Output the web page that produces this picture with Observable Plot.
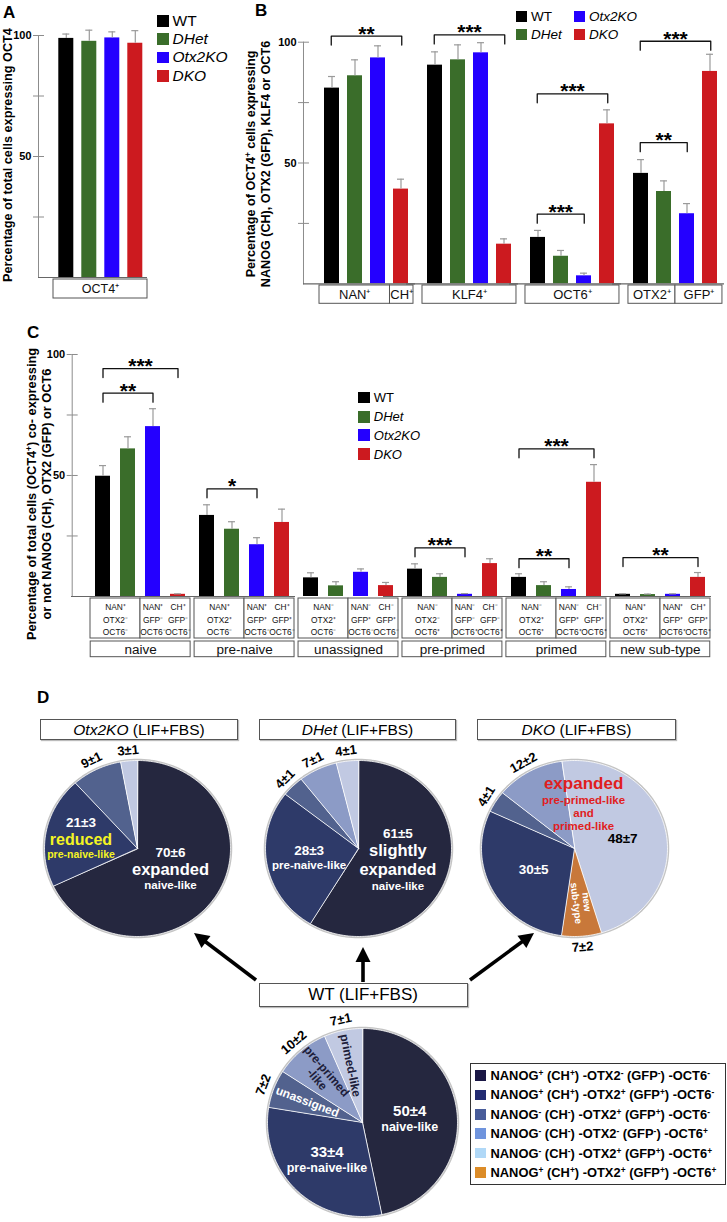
<!DOCTYPE html>
<html>
<head>
<meta charset="utf-8">
<script src="https://cdn.jsdelivr.net/npm/d3@7"></script>
<script src="https://cdn.jsdelivr.net/npm/@observablehq/plot@0.6"></script>
<style>
  html, body { margin: 0; padding: 0; background: #fff; }
  #fig { position: relative; width: 727px; height: 1222px; overflow: hidden; background: #fff;
         font-family: "Liberation Sans", Arial, Helvetica, sans-serif; color: #000; }
  #fig svg { max-width: none !important; }
  .abs { position: absolute; }
  .abs > svg { display: block; }
  .letter { position: absolute; font-weight: bold; font-size: 17px; line-height: 1; }
  .ytitle { position: absolute; transform: translate(-50%, -50%) rotate(-90deg); white-space: nowrap;
            text-align: center; font-weight: bold; }
  .leg { position: absolute; display: flex; align-items: center; white-space: nowrap; }
  .leg .sw { display: inline-block; flex: none; }
  sup { font-size: 0.65em; line-height: 0; vertical-align: 0.5em; }
  .yaxwrap text { fill: #000; font-weight: bold; }
  .tbox { position: absolute; border: 1px solid #555; box-sizing: border-box; text-align: center;
          background: #fff; box-shadow: 1px 1px 1px #bbb; white-space: nowrap; }
  .dleg { position: absolute; border: 1px solid #333; box-sizing: border-box; background: #fff; }
  .dleg .row { display: flex; align-items: center; font-weight: bold; font-size: 12.9px; white-space: nowrap; position: absolute; left: 4px; }
  .dleg .row .sw { width: 10.5px; height: 10.5px; margin-right: 5px; flex: none; }
</style>
</head>
<body>
<div id="fig"></div>
<script>
// ------------------------------------------------------------------ data
const genotypes = ["WT", "DHet", "Otx2KO", "DKO"];
const genotypeColors = ["#000000", "#3a6d2a", "#2400ff", "#cc1a1f"];
const genotypeItalic = [false, true, true, true];

// Panel A
const aGroups = ["OCT4"];
const aMeans = [[98.8, 97.6, 99.0, 96.8]];
const aSems = [[1.8, 4.6, 2.5, 5.2]];
const aBoxes = [{group: "OCT4", first: "WT", last: "DKO", label: "OCT4⁺"}];

// Panel B
const bGroups = ["NAN", "KLF4", "OCT6", "OTX2"];
const bMeans = [[81.0, 86.1, 93.5, 39.2], [90.5, 92.7, 95.6, 16.4], [19.2, 11.4, 3.3, 66.2], [45.7, 38.2, 29.0, 87.9]];
const bSems = [[4.8, 6.6, 5.0, 4.1], [5.5, 6.2, 4.2, 2.2], [2.9, 2.4, 1.1, 5.8], [5.7, 4.4, 4.2, 7.1]];
const bSig = [
  {group: "NAN", from: "WT", to: "DKO", level: 102.5, stars: "**"},
  {group: "KLF4", from: "WT", to: "DKO", level: 103.0, stars: "***"},
  {group: "OCT6", from: "WT", to: "DKO", level: 78.6, stars: "***"},
  {group: "OCT6", from: "WT", to: "Otx2KO", level: 28.8, stars: "***"},
  {group: "OTX2", from: "WT", to: "DKO", level: 100.4, stars: "***"},
  {group: "OTX2", from: "WT", to: "Otx2KO", level: 58.4, stars: "**"}
];
const bBoxes = [
  {group: "NAN", first: "WT", last: "Otx2KO", label: "NAN⁺"},
  {group: "NAN", first: "DKO", last: "DKO", label: "CH⁺"},
  {group: "KLF4", first: "WT", last: "DKO", label: "KLF4⁺"},
  {group: "OCT6", first: "WT", last: "DKO", label: "OCT6⁺"},
  {group: "OTX2", first: "WT", last: "DHet", label: "OTX2⁺"},
  {group: "OTX2", first: "Otx2KO", last: "DKO", label: "GFP⁺"}
];

// Panel C
const cGroups = ["naive", "pre-naive", "unassigned", "pre-primed", "primed", "new sub-type"];
const cMeans = [[49.7, 61.0, 70.2, 0.9], [33.5, 27.8, 21.4, 30.6], [7.7, 4.4, 10.0, 4.5],
                [11.3, 7.9, 0.9, 13.6], [7.9, 4.5, 2.9, 47.2], [0.9, 0.8, 0.9, 7.9]];
const cSems = [[4.4, 5.0, 7.4, 0.2], [4.4, 3.1, 2.9, 5.5], [2.1, 1.7, 1.4, 1.3],
               [2.2, 1.5, 0.3, 2.0], [1.5, 1.6, 1.1, 7.3], [0.2, 0.2, 0.2, 2.0]];
const cSig = [
  {group: "naive", from: "WT", to: "DKO", level: 94.2, stars: "***"},
  {group: "naive", from: "WT", to: "Otx2KO", level: 84.0, stars: "**"},
  {group: "pre-naive", from: "WT", to: "Otx2KO", level: 44.5, stars: "*"},
  {group: "pre-primed", from: "WT", to: "Otx2KO", level: 20.1, stars: "***"},
  {group: "primed", from: "WT", to: "DKO", level: 61.0, stars: "***"},
  {group: "primed", from: "WT", to: "Otx2KO", level: 15.6, stars: "**"},
  {group: "new sub-type", from: "WT", to: "DKO", level: 16.1, stars: "**"}
];
const cMarkers = [
  ["NAN⁺\nOTX2⁻\nOCT6⁻", "NAN⁺\nGFP⁻\nOCT6⁻", "CH⁺\nGFP⁻\nOCT6⁻"],
  ["NAN⁺\nOTX2⁺\nOCT6⁻", "NAN⁺\nGFP⁺\nOCT6⁻", "CH⁺\nGFP⁺\nOCT6⁻"],
  ["NAN⁻\nOTX2⁺\nOCT6⁻", "NAN⁻\nGFP⁺\nOCT6⁻", "CH⁻\nGFP⁺\nOCT6⁻"],
  ["NAN⁻\nOTX2⁻\nOCT6⁺", "NAN⁻\nGFP⁻\nOCT6⁺", "CH⁻\nGFP⁻\nOCT6⁺"],
  ["NAN⁻\nOTX2⁺\nOCT6⁺", "NAN⁻\nGFP⁺\nOCT6⁺", "CH⁻\nGFP⁺\nOCT6⁺"],
  ["NAN⁺\nOTX2⁺\nOCT6⁺", "NAN⁺\nGFP⁺\nOCT6⁺", "CH⁺\nGFP⁺\nOCT6⁺"]
];
const cMarkerGenotypes = [["WT", "DHet"], ["Otx2KO"], ["DKO"]];

const yTicks = [25, 50, 75, 100];
const yTickLabels = [50, 100];

// Panel D (pies)
const pieClassNames = ["naive-like", "pre-naive-like", "unassigned", "pre-primed-like", "primed-like", "new sub-type"];
const pieClassColors = ["#25273f", "#2e3a69", "#52628e", "#8c9bc6", "#c1c9e2", "#c8783a"];
const otx2koPieClasses = ["naive-like", "pre-naive-like", "unassigned", "primed-like"];
const otx2koPieShares = [70, 21, 9, 3];
const otx2koPieErrors = [6, 3, 1, 1];
const dhetPieClasses = ["naive-like", "pre-naive-like", "unassigned", "pre-primed-like", "primed-like"];
const dhetPieShares = [61, 28, 4, 7, 4];
const dhetPieErrors = [5, 3, 1, 1, 1];
const dkoPieClasses = ["primed-like", "new sub-type", "pre-naive-like", "unassigned", "pre-primed-like"];
const dkoPieShares = [48, 7, 30, 4, 12];
const dkoPieErrors = [7, 2, 5, 1, 2];
const wtPieClasses = ["naive-like", "pre-naive-like", "unassigned", "pre-primed-like", "primed-like"];
const wtPieShares = [50, 33, 7, 10, 7];
const wtPieErrors = [4, 4, 2, 2, 1];

const dLegendColors = ["#1a1745", "#222b72", "#485c9a", "#6f94dd", "#b0d8f7", "#dc8c28"];
const dLegendLabels = [
  "NANOG<sup>+</sup> (CH<sup>+</sup>) -OTX2<sup>-</sup> (GFP<sup>-</sup>) -OCT6<sup>-</sup>",
  "NANOG<sup>+</sup> (CH<sup>+</sup>) -OTX2<sup>+</sup> (GFP<sup>+</sup>) -OCT6<sup>-</sup>",
  "NANOG<sup>-</sup> (CH<sup>-</sup>) -OTX2<sup>+</sup> (GFP<sup>+</sup>) -OCT6<sup>-</sup>",
  "NANOG<sup>-</sup> (CH<sup>-</sup>) -OTX2<sup>-</sup> (GFP<sup>-</sup>) -OCT6<sup>+</sup>",
  "NANOG<sup>-</sup> (CH<sup>-</sup>) -OTX2<sup>+</sup> (GFP<sup>+</sup>) -OCT6<sup>+</sup>",
  "NANOG<sup>+</sup> (CH<sup>+</sup>) -OTX2<sup>+</sup> (GFP<sup>+</sup>) -OCT6<sup>+</sup>"
];

// ------------------------------------------------------------------ helpers
const FONT = '"Liberation Sans", Arial, Helvetica, sans-serif';
const W = 727;
const fig = document.getElementById("fig");
const slotOf = g => genotypes.indexOf(g);
const BRACKET_DROP = 3.7;

function place(node, left, top, cls) {
  const d = document.createElement("div");
  d.className = "abs" + (cls ? " " + cls : "");
  d.style.left = left + "px";
  d.style.top = top + "px";
  d.appendChild(node);
  fig.appendChild(d);
  return d;
}
function html(str, left, top, cls, style) {
  const d = document.createElement("div");
  d.className = cls || "abs";
  d.style.left = left + "px";
  d.style.top = top + "px";
  if (style) Object.assign(d.style, style);
  d.innerHTML = str;
  fig.appendChild(d);
  return d;
}
function baseStyle(extra) {
  return Object.assign({background: "transparent", overflow: "visible", fontFamily: FONT, maxWidth: "none"}, extra || {});
}

function axisPlot(L) {
  const svg = Plot.plot({
    width: L.axisX + 10, height: L.y0 - L.top + 2,
    marginLeft: L.axisX, marginRight: 4, marginTop: L.y100 - L.top, marginBottom: 2,
    style: baseStyle({fontSize: "11px", color: "#8c8c8c"}),
    y: {domain: [0, 100], ticks: yTicks, tickFormat: d => yTickLabels.includes(d) ? String(d) : "",
        tickSize: 5, tickPadding: 2, line: true, label: null},
    marks: [Plot.ruleY(yTicks, {stroke: "#8c8c8c"})]
  });
  place(svg, 0, L.top, "yaxwrap");
}

function barPlot(L, groups, means, sems) {
  const rows = groups.flatMap((g, i) => genotypes.map((k, j) => ({group: g, genotype: k, mean: means[i][j], sem: sems[i][j]})));
  const svg = Plot.plot({
    width: L.svgW, height: L.y0 - L.top + 2,
    marginLeft: L.left, marginRight: L.svgW - L.right, marginTop: L.y100 - L.top, marginBottom: 2,
    style: baseStyle(),
    fx: {domain: groups, paddingInner: L.fxPad, paddingOuter: 0, axis: null, label: null},
    x: {domain: genotypes, paddingInner: L.xPad, paddingOuter: L.xPad / 2, axis: null, label: null},
    y: {domain: [0, 100], axis: null},
    color: {domain: genotypes, range: genotypeColors},
    marks: [
      Plot.barY(rows, {fx: "group", x: "genotype", y: "mean", fill: "genotype"}),
      Plot.ruleX(rows, {fx: "group", x: "genotype", y1: "mean", y2: d => d.mean + d.sem, stroke: "#9a9a9a", strokeWidth: 1.2}),
      Plot.tickY(rows, {fx: "group", x: "genotype", y: d => d.mean + d.sem, stroke: "#9a9a9a", strokeWidth: 1.2,
                        insetLeft: L.capInset, insetRight: L.capInset})
    ]
  });
  place(svg, 0, L.top);
}

function annotPlot(L, groups, sig) {
  const pts = sig.flatMap((b, i) => [
    {id: i, group: b.group, x: slotOf(b.from) + 0.5, y: b.level - BRACKET_DROP},
    {id: i, group: b.group, x: slotOf(b.from) + 0.5, y: b.level},
    {id: i, group: b.group, x: slotOf(b.to) + 0.5, y: b.level},
    {id: i, group: b.group, x: slotOf(b.to) + 0.5, y: b.level - BRACKET_DROP}
  ]);
  const svg = Plot.plot({
    width: L.svgW, height: L.y0 - L.top + 2,
    marginLeft: L.left, marginRight: L.svgW - L.right, marginTop: L.y100 - L.top, marginBottom: 2,
    style: baseStyle(),
    fx: {domain: groups, paddingInner: L.fxPad, paddingOuter: 0, axis: null, label: null},
    x: {domain: [0, genotypes.length], axis: null},
    y: {domain: [0, 100], axis: null},
    marks: [
      Plot.ruleY([0], {stroke: "#666", strokeWidth: 1.2, insetLeft: -L.baseL, insetRight: -L.baseR}),
      Plot.line(pts, {fx: "group", x: "x", y: "y", z: "id", stroke: "#111", strokeWidth: 1.3}),
      Plot.text(sig, {fx: "group", x: d => (slotOf(d.from) + slotOf(d.to) + 1) / 2, y: "level", text: "stars",
                      fontSize: 21, fontWeight: "bold", lineAnchor: "bottom", dy: 4.5, fill: "#000"})
    ]
  });
  place(svg, 0, L.top);
}

function labelRow(L, groups, top, h, boxes, texts, fontSize, lineHeight) {
  const svg = Plot.plot({
    width: L.svgW, height: h + 2,
    marginLeft: L.left, marginRight: L.svgW - L.right, marginTop: 1, marginBottom: 1,
    style: baseStyle({fontSize: fontSize + "px"}),
    fx: {domain: groups, paddingInner: L.fxPad, paddingOuter: 0, axis: null, label: null},
    x: {domain: [0, genotypes.length], axis: null},
    y: {domain: [0, 1], axis: null},
    marks: [
      Plot.rect(boxes, {fx: "group", x1: d => slotOf(d.first), x2: d => slotOf(d.last) + 1, y1: 0, y2: 1,
                        fill: "#fff", stroke: "#555", strokeWidth: 1}),
      Plot.text(texts, {fx: "group", x: d => d3.mean(d.at, g => slotOf(g) + 0.5), y: 0.5, text: "label",
                        fontSize, lineHeight, fill: "#111"})
    ]
  });
  place(svg, 0, top - 1);
}

function legend(items, left, tops, sw, fontSize) {
  items.forEach((g, i) => {
    html(`<span class="sw" style="width:${sw}px;height:${sw}px;background:${genotypeColors[i]}"></span>` +
         `<span style="margin-left:4px;font-size:${fontSize}px;${genotypeItalic[i] ? "font-style:italic;" : ""}">${g}</span>`,
         left[i], tops[i], "leg", {height: sw + "px"});
  });
}

// ------------------------------------------------------------------ panel A
const LA = {top: 0, y100: 35, y0: 277, axisX: 38, left: 52.7, right: 147.7, svgW: 160, fxPad: 0, xPad: 0.36, capInset: 4, baseL: 15, baseR: 0};
axisPlot(LA);
barPlot(LA, aGroups, aMeans, aSems);
annotPlot(LA, aGroups, []);
labelRow(LA, aGroups, 279, 19, aBoxes, aBoxes.map(b => ({group: b.group, at: [b.first, b.last], label: b.label})), 12.5, 1);
html("A", 3, 4, "letter");
html("Percentage of total cells expressing OCT4", 7.5, 155, "ytitle", {fontSize: "12.7px"});
legend(genotypes, [157, 157, 157, 157], [15, 33.3, 51.7, 70], 11.5, 15.5);

// ------------------------------------------------------------------ panel B
const LB = {top: 0, y100: 41.7, y0: 283.3, axisX: 303, left: 318, right: 723.3, svgW: W, fxPad: 0.088, xPad: 0.36, capInset: 4, baseL: 16, baseR: 2};
axisPlot(LB);
barPlot(LB, bGroups, bMeans, bSems);
annotPlot(LB, bGroups, bSig);
labelRow(LB, bGroups, 285, 18.3, bBoxes, bBoxes.map(b => ({group: b.group, at: [b.first, b.last], label: b.label})), 13, 1);
html("B", 255, 2, "letter");
html("Percentage of OCT4<sup>+</sup> cells expressing<br>NANOG (CH), OTX2 (GFP), KLF4 or OCT6", 259, 164, "ytitle",
     {fontSize: "12.6px", lineHeight: "14.7px"});
legend(genotypes, [516, 516, 574, 574], [10.7, 29.3, 10.7, 29.3], 11, 13.5);

// ------------------------------------------------------------------ panel C
const LC = {top: 330, y100: 354, y0: 596, axisX: 71.7, left: 90, right: 710.7, svgW: W, fxPad: 0.037, xPad: 0.42, capInset: 4, baseL: 19, baseR: 1};
axisPlot(LC);
barPlot(LC, cGroups, cMeans, cSems);
annotPlot(LC, cGroups, cSig);
const cCellBoxes = cGroups.flatMap(g => [
  {group: g, first: "WT", last: "DHet"},
  {group: g, first: "Otx2KO", last: "DKO"}
]);
const cCellTexts = cGroups.flatMap((g, i) => cMarkers[i].map((label, k) => ({group: g, at: cMarkerGenotypes[k], label})));
labelRow(LC, cGroups, 598.3, 40, cCellBoxes, cCellTexts, 8.4, 1.5);
const cGroupBoxes = cGroups.map(g => ({group: g, first: "WT", last: "DKO"}));
labelRow(LC, cGroups, 641, 15.7, cGroupBoxes, cGroups.map(g => ({group: g, at: ["WT", "DKO"], label: g})), 13.5, 1);
html("C", 27, 324, "letter");
html("Percentage of total cells (OCT4<sup>+</sup>) co- expressing<br>or not NANOG (CH), OTX2 (GFP) or OCT6", 39, 494, "ytitle",
     {fontSize: "12.8px", lineHeight: "15px"});
legend(genotypes, [358.3, 358.3, 358.3, 358.3], [391.7, 411, 429.3, 448.3], 11.5, 13);

// ------------------------------------------------------------------ panel D
html("D", 37, 689, "letter");

const pies = [
  {name: "Otx2KO", classes: otx2koPieClasses, shares: otx2koPieShares, errors: otx2koPieErrors},
  {name: "DHet", classes: dhetPieClasses, shares: dhetPieShares, errors: dhetPieErrors},
  {name: "DKO", classes: dkoPieClasses, shares: dkoPieShares, errors: dkoPieErrors},
  {name: "WT", classes: wtPieClasses, shares: wtPieShares, errors: wtPieErrors}
];

const pieLayout = {
  Otx2KO: {cx: 136.5, cy: 848, rx: 93, ry: 88, start: 0, labels: [
    {slice: 0, kind: "block", t: 0.5, r: 0.42, lines: [["$v", 13.5, "#fff"], ["expanded", 16.5, "#fff"], ["naive-like", 11.5, "#fff"]]},
    {slice: 1, kind: "block", t: 0.5, r: 0.62, lines: [["$v", 13.5, "#fff"], ["reduced", 16, "#f4f423"], ["pre-naive-like", 10.5, "#f4f423"]]},
    {slice: 2, kind: "outside"}, {slice: 3, kind: "outside"}]},
  DHet: {cx: 357.6, cy: 848, rx: 93, ry: 88, start: 0, labels: [
    {slice: 0, kind: "block", t: 0.5, r: 0.44, lines: [["$v", 13.5, "#fff"], ["slightly", 16.5, "#fff"], ["expanded", 16.5, "#fff"], ["naive-like", 11.5, "#fff"]]},
    {slice: 1, kind: "block", t: 0.5, r: 0.54, lines: [["$v", 13.5, "#fff"], ["pre-naive-like", 11.5, "#fff"]]},
    {slice: 2, kind: "outside"}, {slice: 3, kind: "outside"}, {slice: 4, kind: "outside"}]},
  DKO: {cx: 574, cy: 848, rx: 93, ry: 88, start: -8, labels: [
    {slice: 0, kind: "block", t: 0.5, r: 0.53, lines: [["$v", 13.5, "#000"]]},
    {slice: 0, kind: "block", t: 0.11, r: 0.52, lines: [["expanded", 17, "#e01e1e"], ["pre-primed-like", 11.5, "#e01e1e"], ["and", 11.5, "#e01e1e"], ["primed-like", 11.5, "#e01e1e"]]},
    {slice: 1, kind: "radial", t: 0.4, r: 0.62, text: "new\nsub-type", size: 10, color: "#fff"},
    {slice: 1, kind: "outside"},
    {slice: 2, kind: "block", t: 0.5, r: 0.5, lines: [["$v", 13.5, "#fff"]]},
    {slice: 3, kind: "outside"}, {slice: 4, kind: "outside"}]},
  WT: {cx: 361.5, cy: 1121.5, rx: 95, ry: 94, start: 0, labels: [
    {slice: 0, kind: "block", t: 0.5, r: 0.5, lines: [["$v", 15, "#fff"], ["naive-like", 12.5, "#fff"]]},
    {slice: 1, kind: "block", t: 0.5, r: 0.54, lines: [["$v", 15, "#fff"], ["pre-naive-like", 12.5, "#fff"]]},
    {slice: 2, kind: "radial", t: 0.5, r: 0.62, text: "unassigned", size: 12, color: "#fff"},
    {slice: 3, kind: "radial", t: 0.5, r: 0.66, text: "pre-primed\n-like", size: 12, color: "#1d1d3a"},
    {slice: 4, kind: "radial", t: 0.5, r: 0.62, text: "primed-like", size: 12, color: "#1d1d3a"},
    {slice: 2, kind: "outside"}, {slice: 3, kind: "outside"}, {slice: 4, kind: "outside"}]}
};

function drawPie(p) {
  const Lp = pieLayout[p.name];
  const a0 = Lp.start * Math.PI / 180;
  const arcs = d3.pie().sort(null).startAngle(a0).endAngle(a0 + 2 * Math.PI)(p.shares);
  const polys = [];
  arcs.forEach((a, i) => {
    const color = pieClassColors[pieClassNames.indexOf(p.classes[i])];
    polys.push({id: i, x: 0, y: 0, color});
    const n = Math.max(2, Math.ceil((a.endAngle - a.startAngle) / (Math.PI / 180)));
    for (let k = 0; k <= n; k++) {
      const th = a.startAngle + (a.endAngle - a.startAngle) * k / n;
      polys.push({id: i, x: Math.sin(th), y: Math.cos(th), color});
    }
  });
  const ring = d3.range(0, 361, 2).map(d => ({x: Math.sin(d * Math.PI / 180), y: Math.cos(d * Math.PI / 180)}));
  const texts = [];
  for (const lab of Lp.labels) {
    const a = arcs[lab.slice];
    const th = a.startAngle + (lab.t ?? 0.5) * (a.endAngle - a.startAngle);
    const deg = ((th * 180 / Math.PI) % 360 + 360) % 360;
    const valueText = `${p.shares[lab.slice]}±${p.errors[lab.slice]}`;
    if (lab.kind === "outside") {
      const r = lab.r ?? 1.12;
      const rot = deg > 270 ? deg - 360 : deg > 90 ? deg - 180 : deg;
      texts.push({x: r * Math.sin(th), y: r * Math.cos(th), text: valueText, size: 13, color: "#000", rotate: rot});
    } else if (lab.kind === "radial") {
      const rot = deg >= 180 ? deg - 270 : deg - 90;
      texts.push({x: lab.r * Math.sin(th), y: lab.r * Math.cos(th), text: lab.text, size: lab.size, color: lab.color, rotate: rot});
    } else {
      const lines = lab.lines.map(([t, size, color]) => ({text: t === "$v" ? valueText : t, size, color}));
      const hs = lines.map(l => l.size * 1.15);
      let off = -d3.sum(hs) / 2;
      const ax = lab.r * Math.sin(th), ay = lab.r * Math.cos(th);
      lines.forEach((l, k) => {
        const c = off + hs[k] / 2;
        off += hs[k];
        texts.push({x: ax, y: ay - c / Lp.ry, text: l.text, size: l.size, color: l.color, rotate: 0});
      });
    }
  }
  const pw = 2 * Lp.rx + 100, ph = 2 * Lp.ry + 80;
  const svg = Plot.plot({
    width: pw, height: ph, marginLeft: 0, marginRight: 0, marginTop: 0, marginBottom: 0,
    style: baseStyle(),
    x: {domain: [-1, 1], range: [pw / 2 - Lp.rx, pw / 2 + Lp.rx], axis: null},
    y: {domain: [-1, 1], range: [ph / 2 + Lp.ry, ph / 2 - Lp.ry], axis: null},
    color: {type: "identity"},
    marks: [
      Plot.line(ring, {x: "x", y: "y", stroke: "#c4c4c4", strokeWidth: 3.5, curve: "linear-closed"}),
      Plot.line(polys, {x: "x", y: "y", z: "id", fill: d => d.color, stroke: "#fff", strokeWidth: 0.8, curve: "linear-closed"}),
      Plot.text(texts, {x: "x", y: "y", text: "text", fontSize: d => d.size, fill: d => d.color, rotate: d => d.rotate,
                        fontWeight: "bold", lineHeight: 1.05})
    ]
  });
  place(svg, Lp.cx - pw / 2, Lp.cy - ph / 2);
}
pies.forEach(drawPie);

// title boxes
html("<i>Otx2KO</i> (LIF+FBS)", 40, 719, "tbox", {width: "198px", height: "21px", fontSize: "15.5px", lineHeight: "19px"});
html("<i>DHet</i> (LIF+FBS)", 259, 719, "tbox", {width: "197px", height: "21px", fontSize: "15.5px", lineHeight: "19px"});
html("<i>DKO</i> (LIF+FBS)", 477, 719, "tbox", {width: "199px", height: "21px", fontSize: "15.5px", lineHeight: "19px"});
html("WT (LIF+FBS)", 258.6, 982.7, "tbox", {width: "209px", height: "24.5px", fontSize: "17px", lineHeight: "22px"});

// arrows
function arrowSvg(x1, y1, x2, y2) {
  const dx = x2 - x1, dy = y2 - y1, len = Math.hypot(dx, dy), ux = dx / len, uy = dy / len;
  const hl = 15, hw = 7.5, bx = x2 - ux * hl, by = y2 - uy * hl;
  return `<line x1="${x1}" y1="${y1}" x2="${bx + ux}" y2="${by + uy}" stroke="#000" stroke-width="3.6"/>` +
         `<polygon points="${x2},${y2} ${bx - uy * hw},${by + ux * hw} ${bx + uy * hw},${by - ux * hw}" fill="#000"/>`;
}
html(`<svg width="727" height="1222">${arrowSvg(256, 980, 194, 933)}${arrowSvg(363, 982, 363, 947)}${arrowSvg(470, 980, 534, 933)}</svg>`,
     0, 0, "abs", {pointerEvents: "none"});

// legend D
const dl = html("", 470, 1063, "dleg", {width: "256px", height: "122px"});
dLegendLabels.forEach((lab, i) => {
  const row = document.createElement("div");
  row.className = "row";
  row.style.top = (4 + i * 19.4) + "px";
  row.innerHTML = `<span class="sw" style="background:${dLegendColors[i]}"></span><span>${lab}</span>`;
  dl.appendChild(row);
});
</script>
</body>
</html>
